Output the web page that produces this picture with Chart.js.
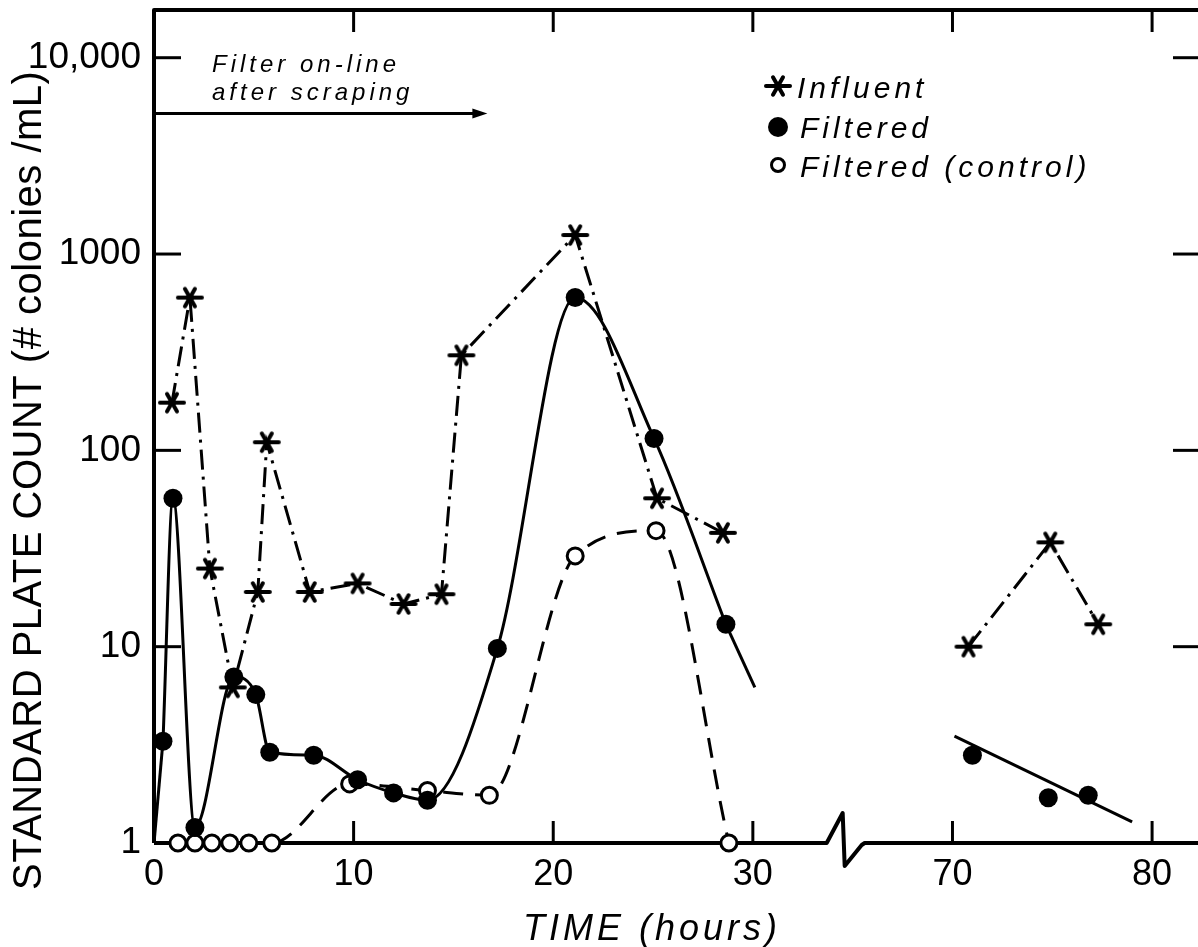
<!DOCTYPE html>
<html>
<head>
<meta charset="utf-8">
<script src="https://cdn.jsdelivr.net/npm/chart.js@4.4.1/dist/chart.umd.min.js"></script>
<style>
  html, body { margin: 0; padding: 0; background: #fff; }
  #wrap { width: 1198px; height: 947px; }
  canvas { display: block; }
</style>
</head>
<body>
<div id="wrap"><canvas id="plate" width="1198" height="947"></canvas></div>
<script>
// Standard plate count (colonies/mL) against hours after the filter went back on line
const influentHours = [0.9, 1.8, 2.8, 3.95, 5.2, 5.65, 7.8, 10.2, 12.5, 14.4, 15.4, 21.1, 25.2, 28.5];
const influentCounts = [175, 600, 25, 6.2, 19, 110, 19, 21, 16.5, 18.5, 305, 1250, 57, 38];
const influentLateHours = [70.8, 74.9, 77.3];
const influentLateCounts = [10, 34, 13];

const filteredHours = [0.45, 0.95, 2.05, 4.0, 5.1, 5.8, 8.0, 10.2, 12.0, 13.7, 17.2, 21.1, 25.05, 28.65];
const filteredCounts = [3.3, 57, 1.2, 7.0, 5.7, 2.9, 2.8, 2.1, 1.8, 1.65, 9.8, 600, 115, 13];
const filteredLateHours = [71.0, 74.8, 76.8];
const filteredLateCounts = [2.8, 1.7, 1.75];

// the solid curve starts at the origin and runs on past the last early count
const filteredLeadHours = [0, 0.45];
const filteredLeadCounts = [1, 3.3];
const filteredTailHours = [28.65, 30.1];
const filteredTailCounts = [13, 6.2];
// straight-line decline through the late filtered counts
const filteredFitHours = [70.1, 79.0];
const filteredFitCounts = [3.5, 1.28];

const controlHours = [1.2, 2.05, 2.9, 3.8, 4.75, 5.9, 9.8, 13.7, 16.8, 21.1, 25.15, 28.8];
const controlCounts = [1, 1, 1, 1, 1, 1, 2.0, 1.85, 1.75, 29, 39, 1];

// "Filter on-line after scraping" arrow: from hour 0 to hour 16.7 at 5200 colonies/mL
const onlineArrowHours = [0, 16.7];
const onlineArrowCount = 5200;

const hourTicks = [0, 10, 20, 30, 70, 80];
const countTicks = [1, 10, 100, 1000, 10000];
const countTickLabels = ['1', '10', '100', '1000', '10,000'];
const seriesNames = ['Influent', 'Filtered', 'Filtered (control)'];
const yTitle = 'STANDARD PLATE COUNT (# colonies /mL)';
const xTitle = 'TIME (hours)';
const arrowText = ['Filter on-line', 'after scraping'];

// hours 35-65 are cut out of the time axis
const CUT_FROM = 35, CUT_TO = 65;
const axisPos = h => (h >= CUT_TO ? h - (CUT_TO - CUT_FROM) : h);
const points = (hs, cs) => hs.map((h, i) => ({ x: axisPos(h), y: cs[i] }));

const FONT = "'Liberation Sans', Arial, sans-serif";

// six-armed asterisk used for the influent counts
function makeStar() {
  const c = document.createElement('canvas');
  c.width = 30; c.height = 26;
  const g = c.getContext('2d');
  g.strokeStyle = '#000';
  g.lineWidth = 4;
  g.lineCap = 'round';
  g.translate(15, 13);
  [[0, 12], [60, 10], [120, 10]].forEach(([deg, r]) => {
    const t = deg * Math.PI / 180;
    g.beginPath();
    g.moveTo(-r * Math.cos(t), -r * Math.sin(t));
    g.lineTo(r * Math.cos(t), r * Math.sin(t));
    g.stroke();
  });
  return c;
}
const star = makeStar();

const influentStyle = {
  showLine: true, borderColor: '#000', borderWidth: 3, borderDash: [20, 7, 3, 7],
  pointStyle: star, pointRadius: 12, tension: 0, clip: false
};
const filteredStyle = {
  showLine: true, borderColor: '#000', borderWidth: 3, backgroundColor: '#000',
  pointStyle: 'circle', pointRadius: 9.5, pointBorderWidth: 0,
  cubicInterpolationMode: 'monotone', clip: false
};
const plainLine = {
  showLine: true, borderColor: '#000', borderWidth: 3, pointRadius: 0, tension: 0, clip: false
};

const datasets = [
  Object.assign({ label: seriesNames[1], data: points(filteredHours, filteredCounts) }, filteredStyle),
  Object.assign({ label: seriesNames[1], data: points(filteredLateHours, filteredLateCounts) }, filteredStyle, { showLine: false }),
  Object.assign({ label: 'lead', data: points(filteredLeadHours, filteredLeadCounts) }, plainLine),
  Object.assign({ label: 'tail', data: points(filteredTailHours, filteredTailCounts) }, plainLine),
  Object.assign({ label: 'fit', data: points(filteredFitHours, filteredFitCounts) }, plainLine),
  Object.assign({ label: seriesNames[0], data: points(influentHours, influentCounts) }, influentStyle),
  Object.assign({ label: seriesNames[0], data: points(influentLateHours, influentLateCounts) }, influentStyle),
  {
    label: seriesNames[2], data: points(controlHours, controlCounts), showLine: true,
    borderColor: '#000', borderWidth: 3, borderDash: [20, 12],
    backgroundColor: '#fff', pointStyle: 'circle', pointRadius: 8, pointBorderWidth: 3,
    pointBorderColor: '#000', cubicInterpolationMode: 'monotone', clip: false
  }
];

// frame, inward ticks and the broken time axis
const framePlugin = {
  id: 'frame',
  beforeDatasetsDraw(chart) {
    const { ctx, chartArea: a, scales: { x, y } } = chart;
    const seg = (x1, y1, x2, y2) => { ctx.beginPath(); ctx.moveTo(x1, y1); ctx.lineTo(x2, y2); ctx.stroke(); };
    ctx.save();
    ctx.strokeStyle = '#000';
    ctx.lineJoin = 'round';
    ctx.lineWidth = 4;
    ctx.beginPath();
    ctx.moveTo(a.left, a.bottom);
    ctx.lineTo(a.left, a.top);
    ctx.lineTo(a.right, a.top);
    ctx.stroke();

    const bx = x.getPixelForValue(CUT_FROM - 0.5);
    ctx.beginPath();
    ctx.moveTo(a.left, a.bottom);
    ctx.lineTo(bx - 16, a.bottom);
    ctx.lineTo(bx, a.bottom - 30);
    ctx.lineTo(bx + 2, a.bottom + 23);
    ctx.lineTo(bx + 19, a.bottom + 2);
    ctx.lineTo(bx + 22, a.bottom);
    ctx.lineTo(a.right, a.bottom);
    ctx.stroke();

    ctx.lineWidth = 3;
    hourTicks.slice(1).forEach(h => {
      const px = x.getPixelForValue(axisPos(h));
      seg(px, a.bottom, px, a.bottom - 22);
      seg(px, a.top, px, a.top + 22);
    });
    countTicks.slice(1).forEach(v => {
      const py = y.getPixelForValue(v);
      seg(a.left, py, a.left + 27, py);
      seg(a.right - 25, py, a.right, py);
    });
    ctx.restore();
  },
  afterDraw(chart) {
    const { ctx, chartArea: a, scales: { x, y } } = chart;
    ctx.save();
    ctx.fillStyle = '#000';
    ctx.strokeStyle = '#000';

    // axis titles
    ctx.save();
    ctx.translate(41, 890);
    ctx.rotate(-Math.PI / 2);
    ctx.textAlign = 'left';
    ctx.textBaseline = 'alphabetic';
    ctx.font = `40px ${FONT}`;
    ctx.letterSpacing = '0.5px';
    ctx.fillText(yTitle, 0, 0);
    ctx.restore();

    ctx.font = `italic 36px ${FONT}`;
    ctx.letterSpacing = '4px';
    ctx.textAlign = 'left';
    ctx.textBaseline = 'alphabetic';
    ctx.fillText(xTitle, a.left + 369, 940);

    // on-line arrow
    const ay = y.getPixelForValue(onlineArrowCount);
    const ax0 = x.getPixelForValue(axisPos(onlineArrowHours[0]));
    const ax1 = x.getPixelForValue(axisPos(onlineArrowHours[1]));
    ctx.lineWidth = 3;
    ctx.beginPath();
    ctx.moveTo(ax0, ay);
    ctx.lineTo(ax1 - 8, ay);
    ctx.stroke();
    ctx.beginPath();
    ctx.moveTo(ax1, ay);
    ctx.lineTo(ax1 - 15, ay - 5);
    ctx.lineTo(ax1 - 15, ay + 5);
    ctx.closePath();
    ctx.fill();
    ctx.font = `italic 24px ${FONT}`;
    ctx.letterSpacing = '4px';
    ctx.fillText(arrowText[0], a.left + 58, 72);
    ctx.fillText(arrowText[1], a.left + 58, 100);

    // key
    const kx = 778;
    ctx.drawImage(star, kx - 15, 86 - 13);
    ctx.beginPath();
    ctx.arc(kx, 127, 10, 0, Math.PI * 2);
    ctx.fill();
    ctx.beginPath();
    ctx.arc(kx, 165, 6.5, 0, Math.PI * 2);
    ctx.lineWidth = 3;
    ctx.stroke();
    ctx.font = `italic 30px ${FONT}`;
    ctx.letterSpacing = '4px';
    ctx.fillText(seriesNames[0], kx + 19, 98);
    ctx.fillText(seriesNames[1], kx + 22, 138);
    ctx.fillText(seriesNames[2], kx + 22, 177);
    ctx.restore();
  }
};

new Chart(document.getElementById('plate'), {
  type: 'scatter',
  data: { datasets },
  options: {
    responsive: false,
    animation: false,
    devicePixelRatio: 1,
    layout: { autoPadding: false, padding: { top: 10, right: 0, left: 0, bottom: 0 } },
    plugins: { legend: { display: false }, tooltip: { enabled: false } },
    scales: {
      x: {
        type: 'linear',
        min: 0,
        max: axisPos(82.3),
        afterFit(s) { s.height = 104; s.paddingLeft = 0; s.paddingRight = 0; },
        afterBuildTicks(s) { s.ticks = hourTicks.map(h => ({ value: axisPos(h) })); },
        ticks: {
          autoSkip: false, maxRotation: 0, padding: 10, color: '#000',
          font: { family: FONT, size: 36 },
          callback: (v, i) => String(hourTicks[i])
        },
        grid: { display: false, drawTicks: false },
        border: { display: false }
      },
      y: {
        type: 'logarithmic',
        min: 1,
        max: 17500,
        afterFit(s) { s.width = 154; s.paddingTop = 0; s.paddingBottom = 0; },
        afterBuildTicks(s) { s.ticks = countTicks.map(v => ({ value: v })); },
        ticks: {
          autoSkip: false, padding: 13, color: '#000',
          font: { family: FONT, size: 37 },
          callback: (v, i) => countTickLabels[i]
        },
        grid: { display: false, drawTicks: false },
        border: { display: false }
      }
    }
  },
  plugins: [framePlugin]
});
</script>
</body>
</html>
